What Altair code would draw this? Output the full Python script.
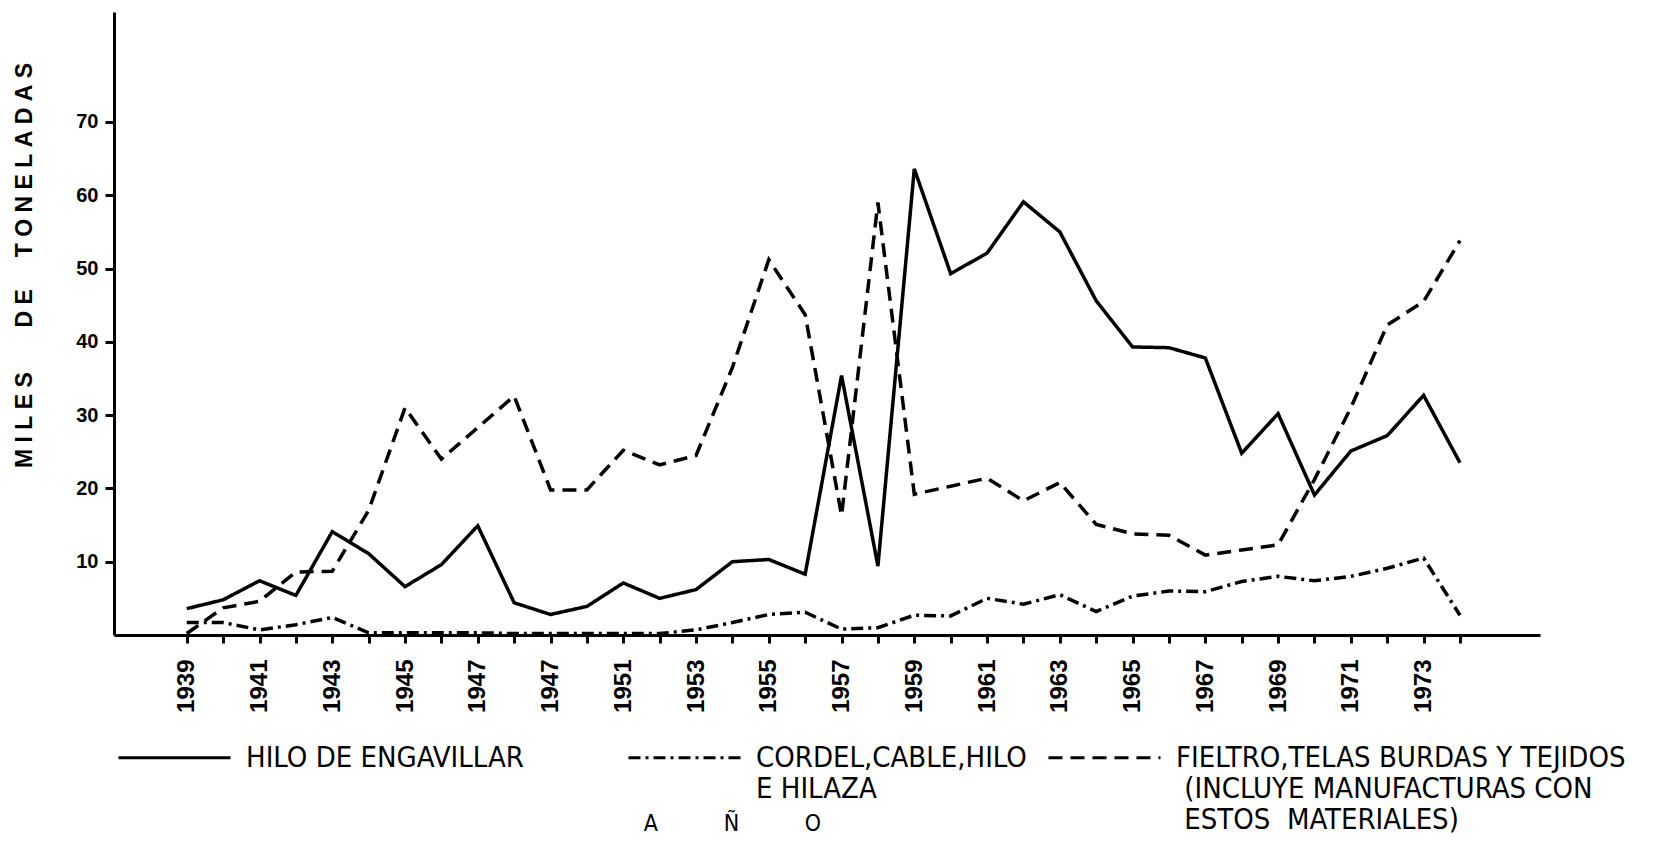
import altair as alt
import pandas as pd

years = list(range(1939, 1975))

hilo = [3.6, 4.8, 7.4, 5.4, 14.1, 11.1, 6.6, 9.6, 14.9, 4.4,
        2.8, 3.9, 7.1, 5.0, 6.2, 10.0, 10.3, 8.3, 35.4, 9.4,
        63.6, 49.3, 52.1, 59.1, 55.0, 45.6, 39.3, 39.2, 37.8, 24.8,
        30.2, 19.1, 25.1, 27.2, 32.7, 23.5]

cordel = [1.7, 1.7, 0.7, 1.4, 2.4, 0.3, 0.3, 0.3, 0.3, 0.2,
          0.2, 0.2, 0.2, 0.2, 0.7, 1.7, 2.8, 3.1, 0.8, 1.0,
          2.7, 2.6, 5.0, 4.2, 5.5, 3.2, 5.3, 6.0, 5.9, 7.3,
          8.0, 7.4, 8.0, 9.1, 10.5, 2.7]

fieltro = [0.2, 3.7, 4.6, 8.6, 8.7, 17.0, 31.0, 24.0, 28.3, 32.6,
           19.8, 19.8, 25.2, 23.2, 24.5, 36.5, 51.2, 43.7, 16.3, 59.0,
           19.2, 20.3, 21.4, 18.3, 20.8, 15.1, 13.8, 13.6, 10.9, 11.6,
           12.3, 21.2, 31.0, 42.3, 45.5, 53.8]

series = ["HILO DE ENGAVILLAR",
          "CORDEL,CABLE,HILO E HILAZA",
          "FIELTRO,TELAS BURDAS Y TEJIDOS (INCLUYE MANUFACTURAS CON ESTOS MATERIALES)"]

NB = "\u00a0"
ZW = "\u200b"
legend_lines = [
    ["HILO DE ENGAVILLAR" + NB * 10 + ZW, ZW, ZW],
    ["CORDEL,CABLE,HILO", "E HILAZA", ZW],
    ["FIELTRO,TELAS BURDAS Y TEJIDOS",
     ZW + NB + "(INCLUYE MANUFACTURAS CON",
     ZW + NB + "ESTOS" + NB * 2 + "MATERIALES)"],
]

label_years = [1939, 1941, 1943, 1945, 1947, 1949, 1951, 1953, 1955,
               1957, 1959, 1961, 1963, 1965, 1967, 1969, 1971, 1973]
label_texts = ["1939", "1941", "1943", "1945", "1947", "1947", "1951", "1953", "1955",
               "1957", "1959", "1961", "1963", "1965", "1967", "1969", "1971", "1973"]

y_ticks = [10, 20, 30, 40, 50, 60, 70]

rows = []
for name, vals in zip(series, [hilo, cordel, fieltro]):
    for yr, v in zip(years, vals):
        rows.append({"year": yr, "value": v, "series": name})
df = pd.DataFrame(rows)

def js_str(s):
    return "'" + s.replace("'", "\\'") + "'"

yrs_js = "[" + ",".join(str(y) for y in label_years) + "]"
txt_js = "[" + ",".join(js_str(t) for t in label_texts) + "]"
x_label_expr = f"indexof({yrs_js}, datum.value) >= 0 ? {txt_js}[indexof({yrs_js}, datum.value)] : ''"

leg_expr = "''"
for name, lines in reversed(list(zip(series, legend_lines))):
    arr = "[" + ",".join(js_str(l) for l in lines) + "]"
    leg_expr = f"datum.value == {js_str(name)} ? {arr} : ({leg_expr})"

NARROW = "Liberation Sans Narrow, DejaVu Sans Condensed, Arial Narrow, sans-serif"
BOLD = "Liberation Sans, Arial, sans-serif"

y_title = NB.join("MILES") + NB * 7 + NB.join("DE") + NB * 5 + NB.join("TONELADAS")
x_title = "A" + NB * 10 + "Ñ" + NB * 10 + "O"

chart = alt.Chart(df).mark_line(strokeWidth=3.5, color="black", strokeJoin="miter").encode(
    x=alt.X("year:Q",
            scale=alt.Scale(domain=[1937, 1976.2], nice=False, zero=False),
            axis=alt.Axis(values=years, labelExpr=x_label_expr, labelAngle=270,
                          labelFont=BOLD, labelFontWeight="bold", labelFontSize=24,
                          labelColor="black", labelPadding=16, labelAlign="right",
                          labelBaseline="middle", labelOverlap=False, labelFlush=False,
                          tickSize=8, tickWidth=3, tickColor="black",
                          domainWidth=3, domainColor="black", grid=False,
                          title=x_title, titleFont=NARROW, titleFontSize=23,
                          titleFontWeight="normal", titleColor="black",
                          titleX=618, titleY=188, titleAlign="center",
                          titleBaseline="middle")),
    y=alt.Y("value:Q",
            scale=alt.Scale(domain=[0, 85], nice=False),
            axis=alt.Axis(values=y_ticks, labelFont=BOLD, labelFontWeight="bold",
                          labelFontSize=20, labelColor="black", labelPadding=7,
                          tickSize=9, tickWidth=3, tickColor="black",
                          domainWidth=3, domainColor="black", grid=False,
                          title=y_title, titleFont=BOLD, titleFontWeight="bold",
                          titleFontSize=23, titleColor="black",
                          titleX=-90, titleY=253, titleAlign="center",
                          titleBaseline="middle", titleAngle=270)),
    strokeDash=alt.StrokeDash(
        "series:N",
        scale=alt.Scale(domain=series, range=[[1, 0], [12, 5, 3, 5], [14, 8]]),
        legend=alt.Legend(orient="none", legendX=3, legendY=688, direction="horizontal",
                          columns=3, columnPadding=15, padding=0, title=None,
                          symbolType="stroke", symbolSize=12544, symbolStrokeWidth=3,
                          symbolStrokeColor="black", labelFont=NARROW, labelFontSize=29,
                          labelColor="black", labelOffset=14, labelLimit=2000,
                          labelBaseline="middle", labelExpr=leg_expr)),
    detail="series:N",
).properties(
    width=1426,
    height=623,
    autosize=alt.AutoSizeParams(type="none"),
    padding={"left": 106, "top": 4, "right": 110, "bottom": 199},
    background="white",
).configure_view(stroke=None)

chart.save("out.html", embed_options={"renderer": "svg", "actions": False})
